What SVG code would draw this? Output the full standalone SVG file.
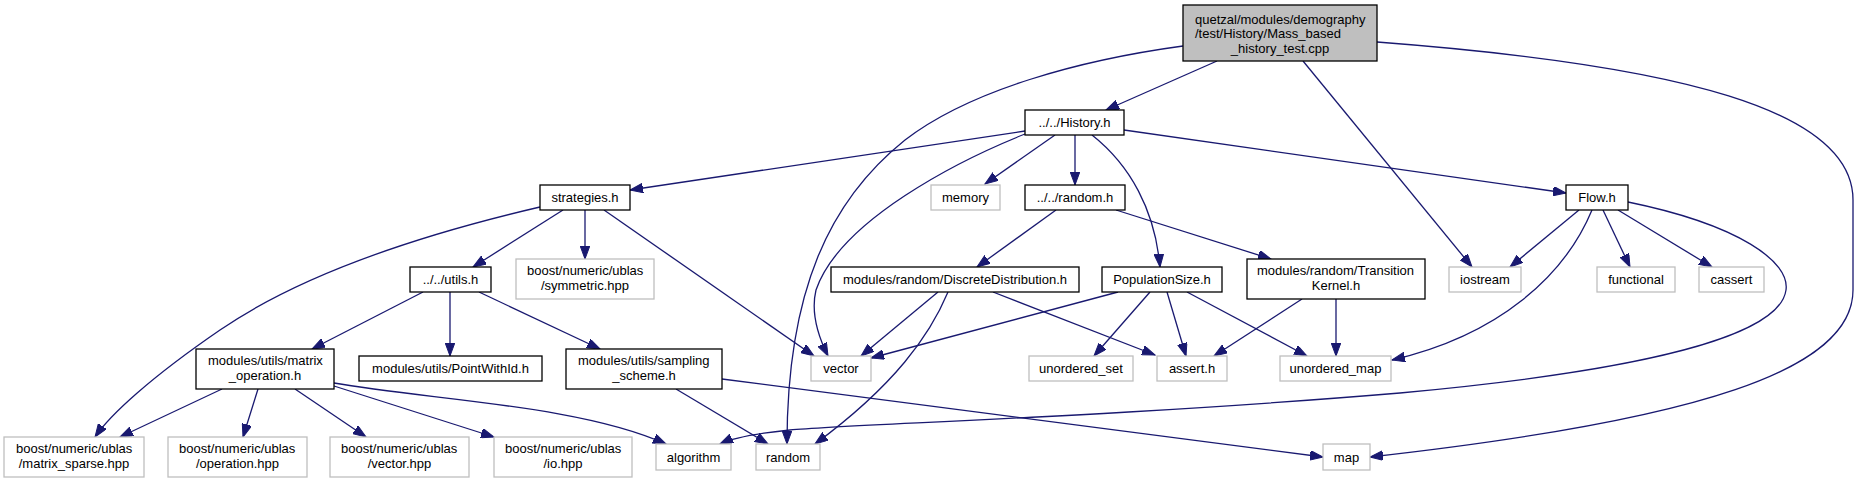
<svg xmlns="http://www.w3.org/2000/svg" width="1859" height="484" viewBox="0 0 1859 484">
<defs>
<style>
text{font-family:"Liberation Sans",Arial,Helvetica,sans-serif;font-size:13px;fill:#000}
.c{text-anchor:middle}
.s{text-anchor:start}
.n rect{fill:#fff;stroke:#000;stroke-width:1.3}
.g rect{fill:#fff;stroke:#bfbfbf;stroke-width:1.3}
#root rect{fill:#bfbfbf}
#edges path{fill:none;stroke:#191970;stroke-width:1.3;marker-end:url(#arr)}
</style>
<marker id="arr" markerWidth="14" markerHeight="10" refX="13" refY="4.8" orient="auto" markerUnits="userSpaceOnUse">
<path d="M0,0 L13,4.8 L0,9.6 z" fill="#191970" stroke="#191970" stroke-width="1"/>
</marker>
</defs>
<rect width="1859" height="484" fill="#fff"/>
<g id="edges">
<path d="M1217,61 L1106,110"/>
<path d="M1183,46 C1080,60 970,90 905,140 C830,200 787,290 787,444"/>
<path d="M1303,61 L1472,267"/>
<path d="M1377,42 C1680,65 1853,110 1853,200 L1853,290 C1853,370 1700,420 1370,457"/>
<path d="M1025,131 L630,190"/>
<path d="M1025,134 C960,160 840,220 816,290 C810,315 820,340 828,356"/>
<path d="M1055,135 L985,184"/>
<path d="M1075,135 L1075,185"/>
<path d="M1092,135 C1130,165 1155,210 1160,267"/>
<path d="M1124,130 L1566,193"/>
<path d="M563,210 L473,267"/>
<path d="M585,210 L585,259"/>
<path d="M604,210 L814,356"/>
<path d="M540,207 C420,235 300,275 220,330 C150,378 110,415 95,437"/>
<path d="M423,292 L312,349"/>
<path d="M450,292 L450,356"/>
<path d="M479,292 L600,349"/>
<path d="M222,389 L120,437"/>
<path d="M258,389 L243,437"/>
<path d="M295,389 L366,437"/>
<path d="M334,386 L494,437"/>
<path d="M334,383 C430,400 580,405 666,444"/>
<path d="M676,389 L768,444"/>
<path d="M722,379 L1323,457"/>
<path d="M1056,210 L977,267"/>
<path d="M1116,210 L1271,259"/>
<path d="M938,292 L861,356"/>
<path d="M948,292 C930,335 895,385 815,444"/>
<path d="M993,292 L1155,355"/>
<path d="M1118,292 L871,358"/>
<path d="M1150,292 L1094,356"/>
<path d="M1167,292 L1186,356"/>
<path d="M1187,292 L1307,356"/>
<path d="M1302,299 L1214,356"/>
<path d="M1336,299 L1336,356"/>
<path d="M1579,210 L1510,267"/>
<path d="M1603,210 L1630,267"/>
<path d="M1618,210 L1712,267"/>
<path d="M1592,210 C1565,275 1500,335 1392,360"/>
<path d="M1628,202 C1740,225 1790,262 1786,290 C1780,335 1650,370 1400,393 C1100,418 850,424 790,430 C760,433 735,437 720,444"/>
</g>
<g id="root" class="n"><rect x="1183" y="5" width="194" height="56"/><text class="s" x="1195" y="23.5">quetzal/modules/demography</text><text class="s" x="1195" y="38">/test/History/Mass_based</text><text class="c" x="1280" y="52.5">_history_test.cpp</text></g>
<g id="history" class="n"><rect x="1025" y="110" width="99" height="25"/><text class="c" x="1074.5" y="127">../../History.h</text></g>
<g id="strategies" class="n"><rect x="540" y="185" width="90" height="25"/><text class="c" x="585" y="202">strategies.h</text></g>
<g id="memory" class="g"><rect x="931" y="185" width="69" height="25"/><text class="c" x="965.5" y="202">memory</text></g>
<g id="randomh" class="n"><rect x="1025" y="185" width="100" height="25"/><text class="c" x="1075" y="202">../../random.h</text></g>
<g id="flow" class="n"><rect x="1566" y="185" width="62" height="25"/><text class="c" x="1597" y="202">Flow.h</text></g>
<g id="utils" class="n"><rect x="410" y="267" width="81" height="25"/><text class="c" x="450.5" y="284">../../utils.h</text></g>
<g id="symmetric" class="g"><rect x="516" y="259" width="138" height="40"/><text class="s" x="527" y="275">boost/numeric/ublas</text><text class="c" x="585" y="289.5">/symmetric.hpp</text></g>
<g id="discrete" class="n"><rect x="831" y="267" width="248" height="25"/><text class="c" x="955" y="284">modules/random/DiscreteDistribution.h</text></g>
<g id="popsize" class="n"><rect x="1102" y="267" width="120" height="25"/><text class="c" x="1162" y="284">PopulationSize.h</text></g>
<g id="kernel" class="n"><rect x="1247" y="259" width="178" height="40"/><text class="s" x="1257" y="275">modules/random/Transition</text><text class="c" x="1336" y="289.5">Kernel.h</text></g>
<g id="iostream" class="g"><rect x="1449" y="267" width="72" height="25"/><text class="c" x="1485" y="284">iostream</text></g>
<g id="functional" class="g"><rect x="1597" y="267" width="78" height="25"/><text class="c" x="1636" y="284">functional</text></g>
<g id="cassert" class="g"><rect x="1699" y="267" width="65" height="25"/><text class="c" x="1731.5" y="284">cassert</text></g>
<g id="matrixop" class="n"><rect x="196" y="349" width="138" height="40"/><text class="s" x="208" y="365">modules/utils/matrix</text><text class="c" x="265" y="379.5">_operation.h</text></g>
<g id="pointwithid" class="n"><rect x="359" y="356" width="183" height="25"/><text class="c" x="450.5" y="373">modules/utils/PointWithId.h</text></g>
<g id="sampling" class="n"><rect x="566" y="349" width="156" height="40"/><text class="s" x="578" y="365">modules/utils/sampling</text><text class="c" x="644" y="379.5">_scheme.h</text></g>
<g id="vector" class="g"><rect x="811" y="356" width="60" height="25"/><text class="c" x="841" y="373">vector</text></g>
<g id="uset" class="g"><rect x="1029" y="356" width="104" height="25"/><text class="c" x="1081" y="373">unordered_set</text></g>
<g id="asserth" class="g"><rect x="1157" y="356" width="70" height="25"/><text class="c" x="1192" y="373">assert.h</text></g>
<g id="umap" class="g"><rect x="1280" y="356" width="111" height="25"/><text class="c" x="1335.5" y="373">unordered_map</text></g>
<g id="msparse" class="g"><rect x="4" y="437" width="140" height="40"/><text class="s" x="16" y="453">boost/numeric/ublas</text><text class="c" x="74" y="467.5">/matrix_sparse.hpp</text></g>
<g id="operation" class="g"><rect x="168" y="437" width="139" height="40"/><text class="s" x="179" y="453">boost/numeric/ublas</text><text class="c" x="237.5" y="467.5">/operation.hpp</text></g>
<g id="vectorhpp" class="g"><rect x="330" y="437" width="139" height="40"/><text class="s" x="341" y="453">boost/numeric/ublas</text><text class="c" x="399.5" y="467.5">/vector.hpp</text></g>
<g id="iohpp" class="g"><rect x="494" y="437" width="138" height="40"/><text class="s" x="505" y="453">boost/numeric/ublas</text><text class="c" x="563" y="467.5">/io.hpp</text></g>
<g id="algorithm" class="g"><rect x="656" y="444" width="75" height="26"/><text class="c" x="693.5" y="461.5">algorithm</text></g>
<g id="random" class="g"><rect x="756" y="444" width="64" height="26"/><text class="c" x="788" y="461.5">random</text></g>
<g id="map" class="g"><rect x="1323" y="444" width="47" height="26"/><text class="c" x="1346.5" y="461.5">map</text></g>
</svg>
